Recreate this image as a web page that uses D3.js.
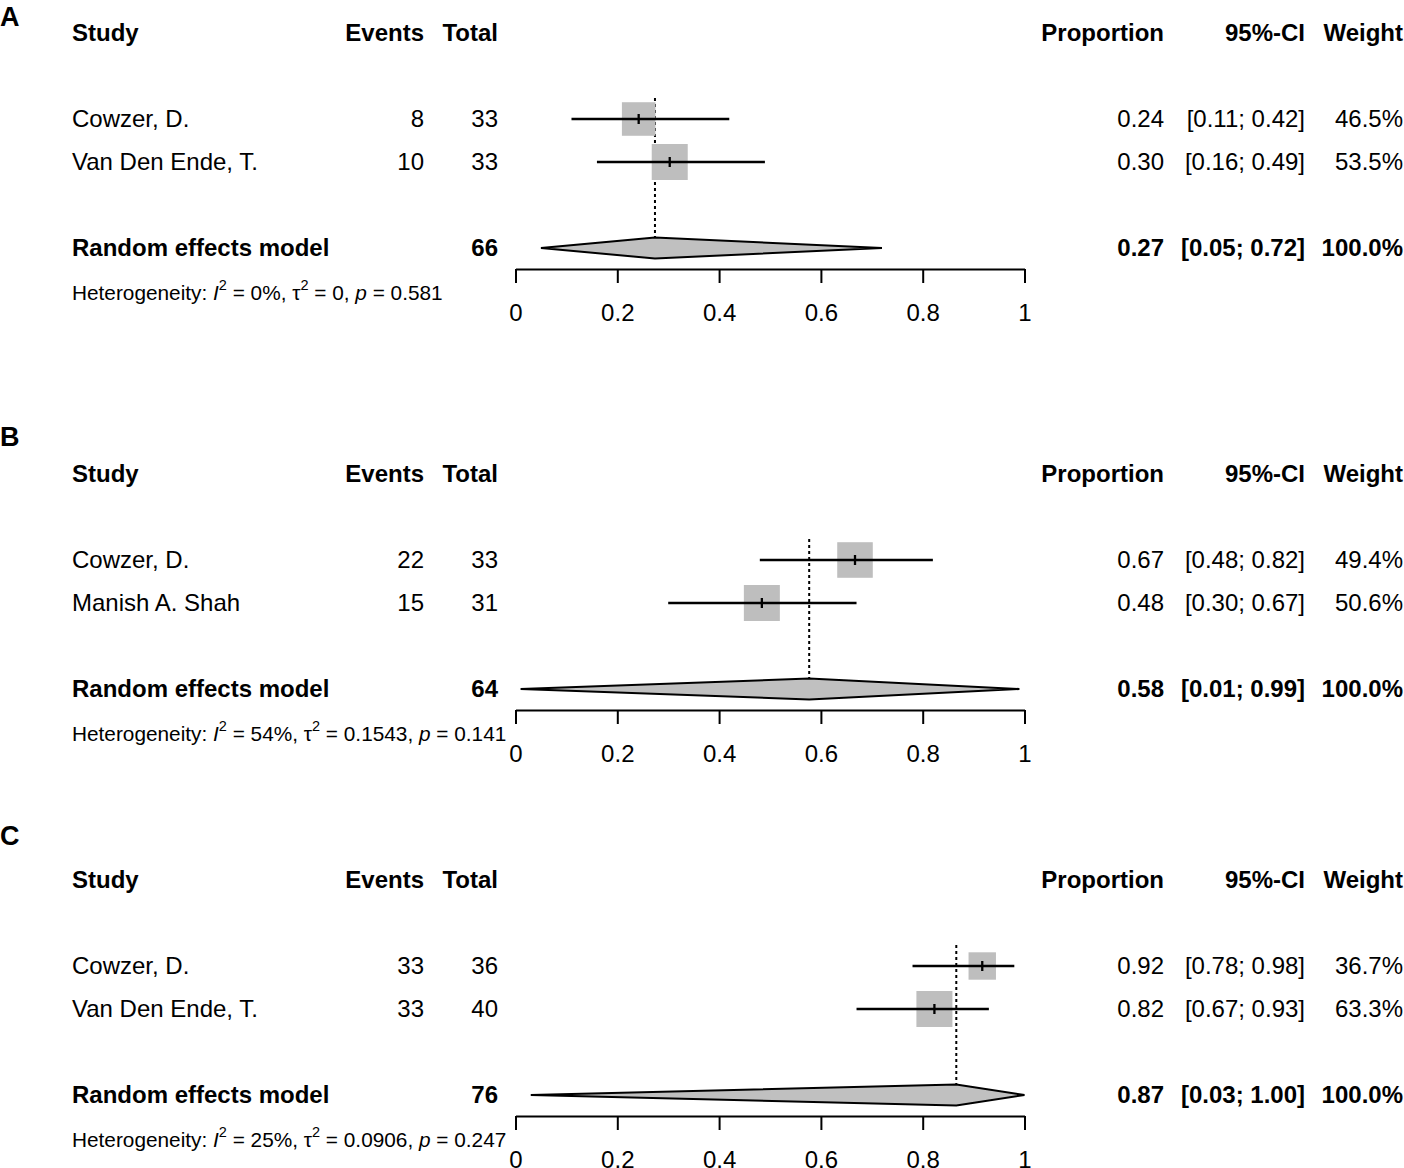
<!DOCTYPE html>
<html>
<head>
<meta charset="utf-8">
<script src="https://cdn.jsdelivr.net/npm/d3@7"></script>
<style>
	body { margin: 0; background: #fff; }
	svg { display: block; font-family: "Liberation Sans", Arial, sans-serif; }
</style>
</head>
<body>
<div id="chartDiv"></div>
<script>
// values, one entry per panel
var panelLabels = ["A", "B", "C"];
var studyNames = [
	["Cowzer, D.", "Van Den Ende, T."],
	["Cowzer, D.", "Manish A. Shah"],
	["Cowzer, D.", "Van Den Ende, T."]
];
var events = [[8, 10], [22, 15], [33, 33]];
var totals = [[33, 33], [33, 31], [36, 40]];
var proportions = [[0.242, 0.303], [0.667, 0.484], [0.917, 0.823]];
var ciLower = [[0.11, 0.16], [0.48, 0.30], [0.78, 0.67]];
var ciUpper = [[0.42, 0.49], [0.82, 0.67], [0.98, 0.93]];
var weights = [[46.5, 53.5], [49.4, 50.6], [36.7, 63.3]];

var summaryTotals = [66, 64, 76];
var summaryEst = [0.274, 0.577, 0.866];
var summaryLower = [0.05, 0.01, 0.03];
var summaryUpper = [0.72, 0.99, 1.00];
var summaryWeight = [100.0, 100.0, 100.0];

var hetI2 = ["0%", "54%", "25%"];
var hetTau2 = ["0", "0.1543", "0.0906"];
var hetP = ["0.581", "0.141", "0.247"];

var axisTicks = [0, 0.2, 0.4, 0.6, 0.8, 1];

// layout
var W = 1404, H = 1168;
var headerY = [33, 474, 880];
var letterY = [17, 437, 836];
var fontSize = 24;
var colStudy = 72, colEvents = 424, colTotal = 498;
var colProp = 1164, colCI = 1305, colWeight = 1403;
var grey = "#bebebe";

var svg = d3.select("#chartDiv").append("svg")
	.attr("width", W)
	.attr("height", H);

var x = d3.scaleLinear().domain([0, 1]).range([515.5, 1024.5]);
var f2 = d3.format(".2f");
var f1 = d3.format(".1f");

function ciText(lo, hi) {
	return "[" + f2(lo) + "; " + f2(hi) + "]";
}

function addText(g, xPos, yPos, txt, anchor, bold, size) {
	return g.append("text")
		.attr("x", xPos)
		.attr("y", yPos)
		.attr("dy", "0.35em")
		.attr("text-anchor", anchor || "start")
		.attr("font-weight", bold ? "bold" : "normal")
		.attr("font-size", size || fontSize)
		.text(txt);
}

panelLabels.forEach(function(lab, p) {
	var top = headerY[p];
	var g = svg.append("g").attr("class", "panel panel-" + lab);
	var rowY = [top + 86, top + 129];
	var sumY = top + 215;
	var axisY = top + 236;

	// panel letter
	addText(g, 0, letterY[p], lab, "start", true, 27);

	// column headers
	addText(g, colStudy, top, "Study", "start", true);
	addText(g, colEvents, top, "Events", "end", true);
	addText(g, colTotal, top, "Total", "end", true);
	addText(g, colProp, top, "Proportion", "end", true);
	addText(g, colCI, top, "95%-CI", "end", true);
	addText(g, colWeight, top, "Weight", "end", true);

	// dotted line at the pooled estimate
	g.append("line")
		.attr("x1", x(summaryEst[p])).attr("x2", x(summaryEst[p]))
		.attr("y1", top + 65).attr("y2", sumY - 10)
		.attr("stroke", "#000")
		.attr("stroke-width", 2)
		.attr("stroke-dasharray", "3,3");

	var size = d3.scaleSqrt().domain([0, d3.max(weights[p])]).range([0, 36]);

	studyNames[p].forEach(function(name, i) {
		var y = rowY[i];
		addText(g, colStudy, y, name, "start", false);
		addText(g, colEvents, y, events[p][i], "end", false);
		addText(g, colTotal, y, totals[p][i], "end", false);
		addText(g, colProp, y, f2(proportions[p][i]), "end", false);
		addText(g, colCI, y, ciText(ciLower[p][i], ciUpper[p][i]), "end", false);
		addText(g, colWeight, y, f1(weights[p][i]) + "%", "end", false);

		var s = size(weights[p][i]);
		g.append("rect")
			.attr("x", x(proportions[p][i]) - s / 2)
			.attr("y", y - s / 2)
			.attr("width", s)
			.attr("height", s)
			.attr("fill", grey);
		g.append("line")
			.attr("x1", x(ciLower[p][i])).attr("x2", x(ciUpper[p][i]))
			.attr("y1", y).attr("y2", y)
			.attr("stroke", "#000").attr("stroke-width", 2.3);
		g.append("line")
			.attr("x1", x(proportions[p][i])).attr("x2", x(proportions[p][i]))
			.attr("y1", y - 5).attr("y2", y + 5)
			.attr("stroke", "#000").attr("stroke-width", 2.3);
	});

	// summary row
	addText(g, colStudy, sumY, "Random effects model", "start", true);
	addText(g, colTotal, sumY, summaryTotals[p], "end", true);
	addText(g, colProp, sumY, f2(summaryEst[p]), "end", true);
	addText(g, colCI, sumY, ciText(summaryLower[p], summaryUpper[p]), "end", true);
	addText(g, colWeight, sumY, f1(summaryWeight[p]) + "%", "end", true);

	var dh = 10.5;
	var pts = [
		[x(summaryLower[p]), sumY],
		[x(summaryEst[p]), sumY - dh],
		[x(summaryUpper[p]), sumY],
		[x(summaryEst[p]), sumY + dh]
	];
	g.append("polygon")
		.attr("points", pts.map(function(d) { return d.join(","); }).join(" "))
		.attr("fill", "#c0c0c0")
		.attr("stroke", "#000")
		.attr("stroke-width", 2)
		.attr("stroke-linejoin", "miter");

	// heterogeneity line
	var het = g.append("text")
		.attr("x", colStudy)
		.attr("y", sumY + 45)
		.attr("dy", "0.35em")
		.attr("font-size", 20.8);
	het.append("tspan").text("Heterogeneity: ");
	het.append("tspan").attr("font-style", "italic").text("I");
	het.append("tspan").attr("font-size", 14.5).attr("dy", -10).text("2");
	het.append("tspan").attr("dy", 10).text(" = " + hetI2[p] + ", \u03c4");
	het.append("tspan").attr("font-size", 14.5).attr("dy", -10).text("2");
	het.append("tspan").attr("dy", 10).text(" = " + hetTau2[p] + ", ");
	het.append("tspan").attr("font-style", "italic").text("p");
	het.append("tspan").text(" = " + hetP[p]);

	// axis
	var axis = d3.axisBottom(x)
		.tickValues(axisTicks)
		.tickSize(14)
		.tickSizeOuter(0)
		.tickPadding(21)
		.tickFormat(d3.format("~g"));
	var ag = g.append("g")
		.attr("transform", "translate(0," + axisY + ")")
		.call(axis);
	ag.attr("font-family", null).attr("font-size", null);
	ag.selectAll("path, line").attr("stroke", "#000").attr("stroke-width", 2);
	ag.selectAll("text").attr("font-size", fontSize).attr("fill", "#000");
});
</script>
</body>
</html>
